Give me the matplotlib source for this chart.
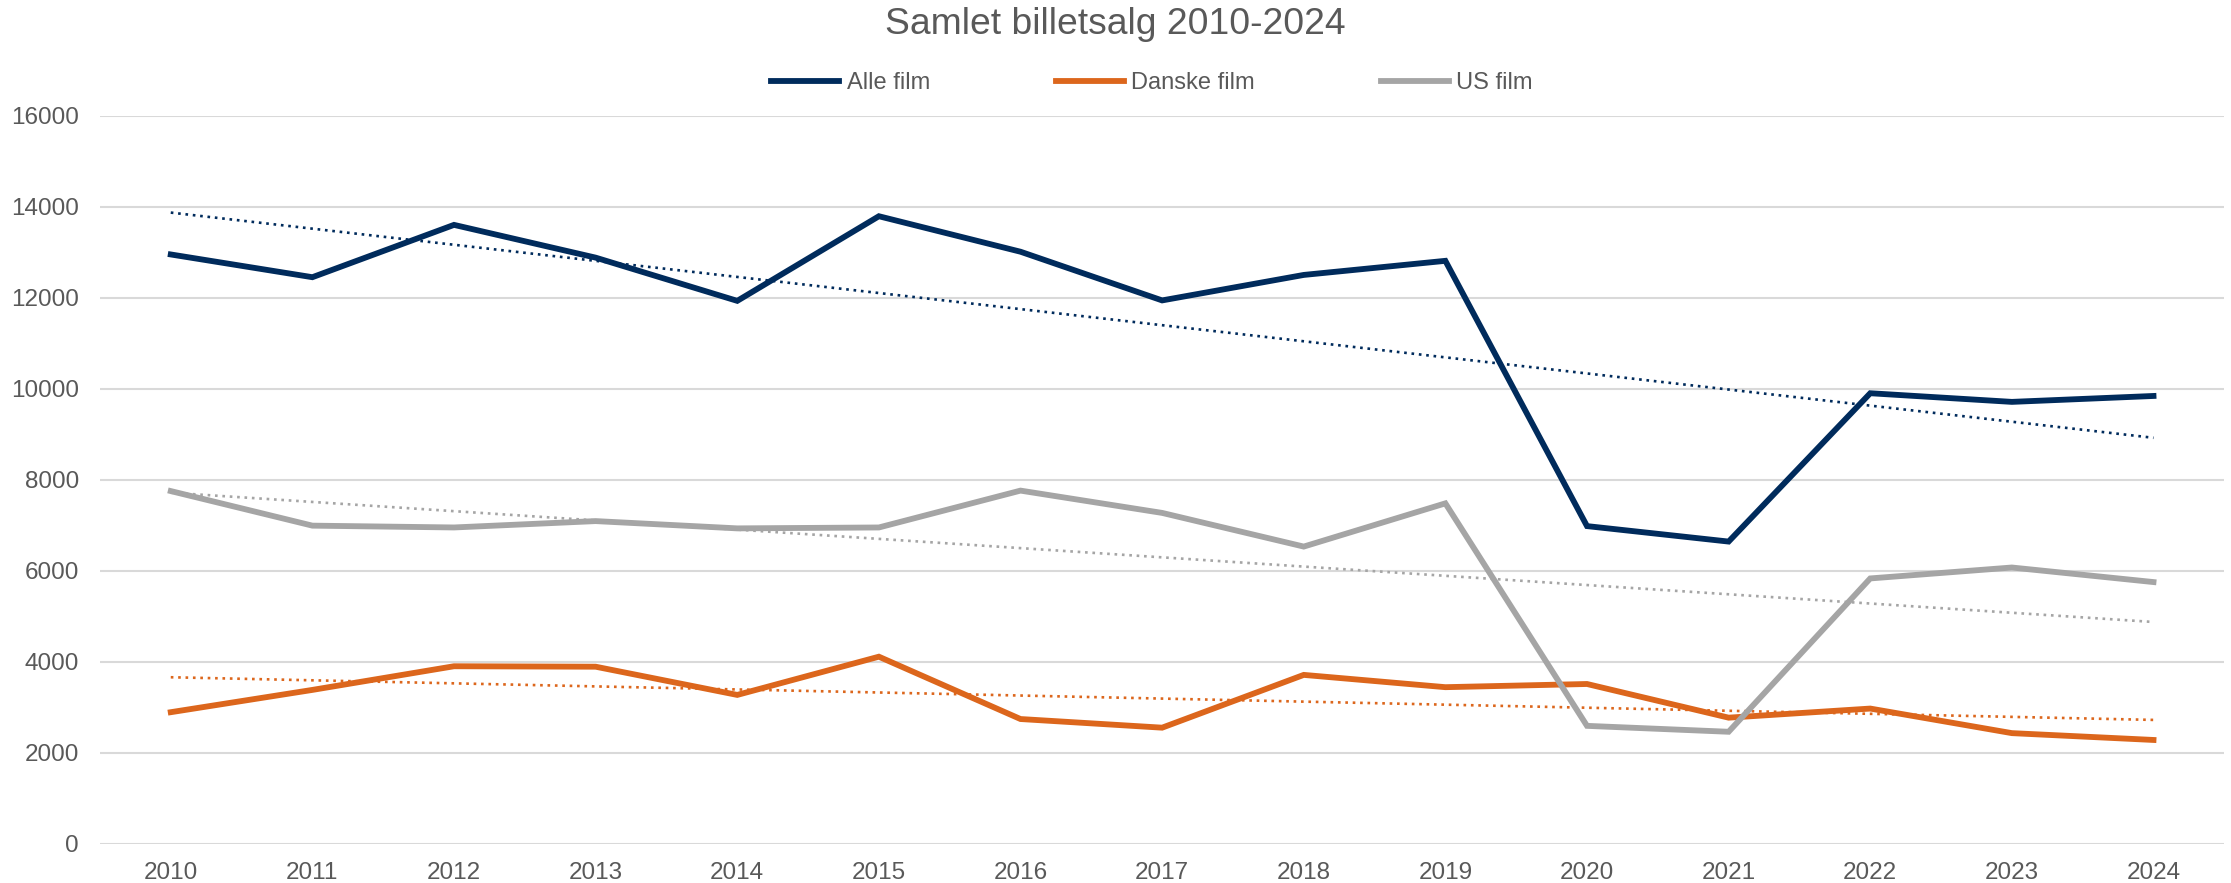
#!/usr/bin/python3

# Samlet billetsalg 2010-2024, with linear trend lines per series.

import numpy as np
import matplotlib
matplotlib.use("Agg")
import matplotlib.pyplot as plt

years = ['2010', '2011', '2012', '2013', '2014', '2015', '2016', '2017',
	'2018', '2019', '2020', '2021', '2022', '2023', '2024']
alle_film = [12950, 12450, 13600, 12880, 11930, 13790, 13010, 11940,
	12500, 12810, 6980, 6640, 9900, 9710, 9840]
danske_film = [2890, 3380, 3900, 3890, 3270, 4110, 2740, 2550,
	3710, 3440, 3510, 2770, 2970, 2430, 2280]
us_film = [7750, 6990, 6950, 7090, 6930, 6950, 7760, 7270,
	6530, 7480, 2590, 2460, 5830, 6070, 5750]
yticks = [0, 2000, 4000, 6000, 8000, 10000, 12000, 14000, 16000]

plt.rcParams['font.family'] = ['Liberation Sans', 'DejaVu Sans']
textcol = '#595959'

series = [
	("Alle film", alle_film, '#002B5C'),
	("Danske film", danske_film, '#DC661C'),
	("US film", us_film, '#A5A5A5'),
]

fig = plt.figure(figsize=(22.31, 8.83), dpi=100)
ax = fig.add_axes([0.0448, 0.0445, 0.9522, 0.8245])

x = np.arange(len(years))
for label, vals, col in series:
	ax.plot(x, vals, color=col, lw=4.2, label=label, solid_joinstyle='miter', zorder=3)
	# linear trend line, like Excel's
	k, m = np.polyfit(x, vals, 1)
	ax.plot(x, k * x + m, color=col, lw=1.9, dashes=(1, 1.8), zorder=2)

ax.set_xlim(-0.5, len(years) - 0.5)
ax.set_ylim(0, 16000)
ax.set_xticks(x)
ax.set_xticklabels(years)
ax.set_yticks(yticks)
ax.tick_params(length=0, labelsize=17.5, labelcolor=textcol)
ax.tick_params(axis='y', pad=15)
ax.tick_params(axis='x', pad=13)
ax.grid(axis='y', color='#D9D9D9', lw=1.5, zorder=0)
for s in ax.spines.values():
	s.set_visible(False)

fig.text(0.5, 1 - 24 / 883, "Samlet billetsalg 2010-2024", ha='center', va='center',
	fontsize=26.8, color=textcol)

fig.legend(loc='center', bbox_to_anchor=(0.5163, 1 - 83 / 883), ncol=3, frameon=False,
	fontsize=17, labelcolor=textcol, handlelength=2.9, handletextpad=0.3,
	columnspacing=5.33)

fig.savefig("out.png", dpi=100)
